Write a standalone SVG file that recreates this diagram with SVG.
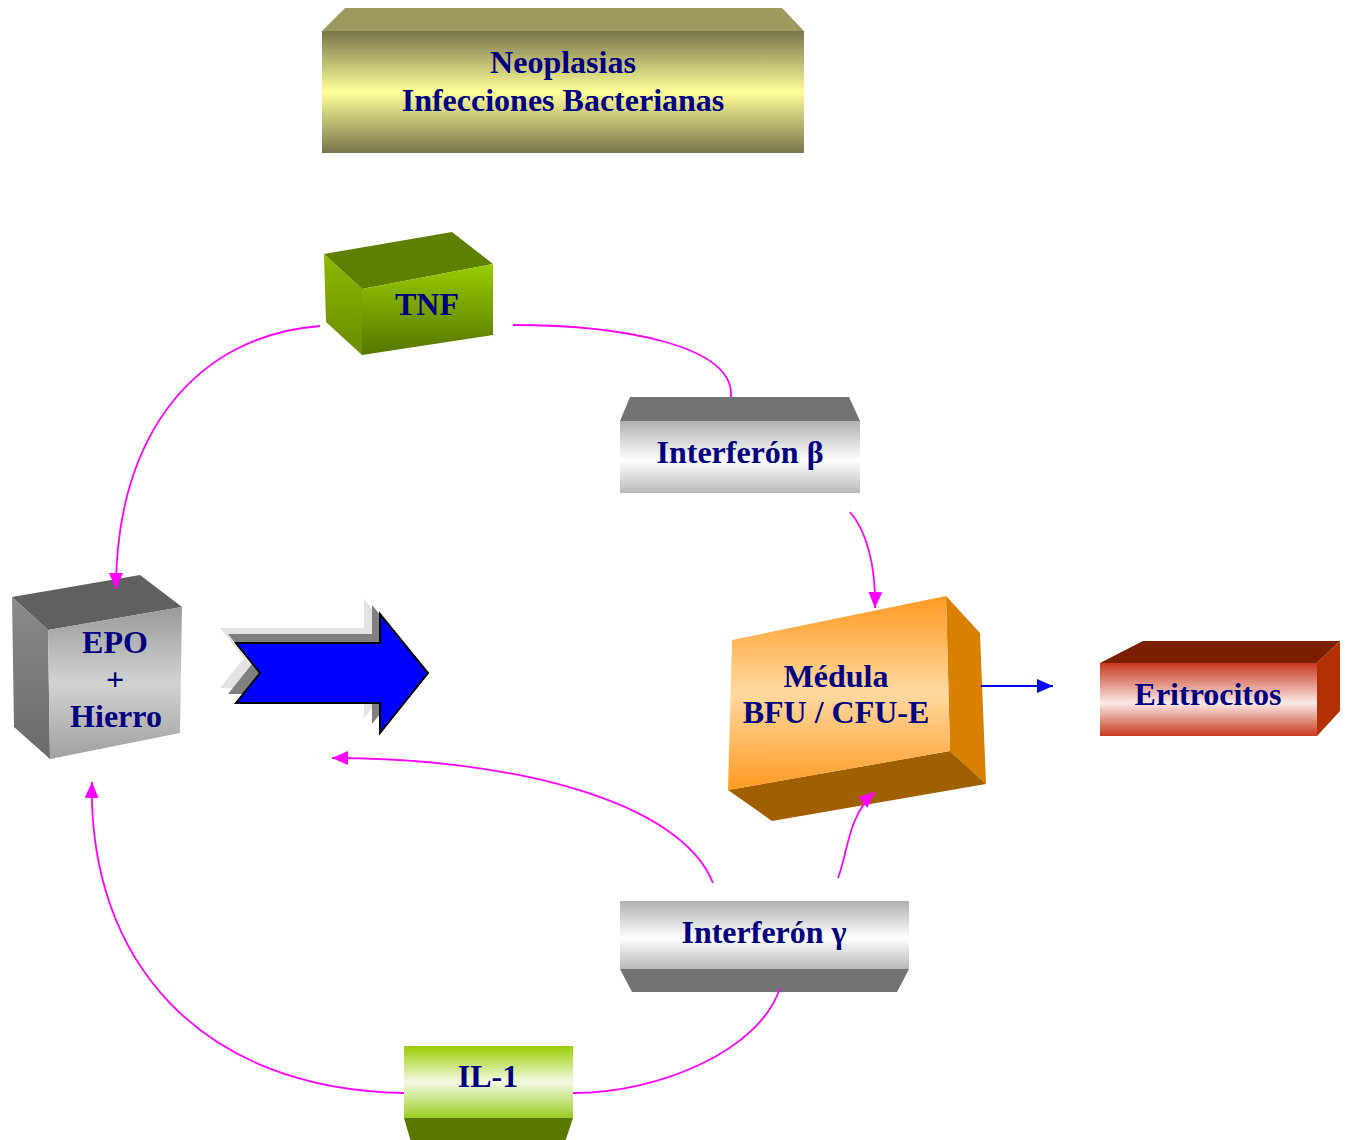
<svg xmlns="http://www.w3.org/2000/svg" width="1346" height="1140" viewBox="0 0 1346 1140">
<defs>
<linearGradient id="gOlive" x1="0" y1="0" x2="0" y2="1">
<stop offset="0" stop-color="#77744a"/><stop offset="0.5" stop-color="#ffff99"/><stop offset="1" stop-color="#77744a"/>
</linearGradient>
<linearGradient id="gGray" x1="0" y1="0" x2="0" y2="1">
<stop offset="0" stop-color="#b0b0b0"/><stop offset="0.55" stop-color="#ffffff"/><stop offset="1" stop-color="#b8b8b8"/>
</linearGradient>
<linearGradient id="gEpo" x1="0" y1="0" x2="0" y2="1">
<stop offset="0" stop-color="#9a9a9a"/><stop offset="0.5" stop-color="#d2d2d2"/><stop offset="1" stop-color="#a0a0a0"/>
</linearGradient>
<linearGradient id="gEpoL" x1="0" y1="0" x2="0" y2="1">
<stop offset="0" stop-color="#8a8a8a"/><stop offset="1" stop-color="#6a6a6a"/>
</linearGradient>
<linearGradient id="gTnf" x1="0" y1="0" x2="0" y2="1">
<stop offset="0" stop-color="#99cc00"/><stop offset="1" stop-color="#567600"/>
</linearGradient>
<linearGradient id="gTnfL" x1="0" y1="0" x2="0" y2="1">
<stop offset="0" stop-color="#8cb800"/><stop offset="1" stop-color="#6a8c00"/>
</linearGradient>
<linearGradient id="gOrange" x1="0" y1="0" x2="0" y2="1">
<stop offset="0" stop-color="#ff9a22"/><stop offset="0.5" stop-color="#ffd9a0"/><stop offset="1" stop-color="#ff9a22"/>
</linearGradient>
<linearGradient id="gRed" x1="0" y1="0" x2="0" y2="1">
<stop offset="0" stop-color="#c83820"/><stop offset="0.55" stop-color="#fbeae6"/><stop offset="1" stop-color="#c83820"/>
</linearGradient>
<linearGradient id="gGreen" x1="0" y1="0" x2="0" y2="1">
<stop offset="0" stop-color="#99cc00"/><stop offset="0.5" stop-color="#f5fae5"/><stop offset="1" stop-color="#99cc22"/>
</linearGradient>
<polygon id="arrowShape" points="236,643 380,643 380,614 428,673 380,733 380,703 236,703 260,673"/>
<marker id="mMag" viewBox="0 0 16 14" refX="16" refY="7" markerWidth="16" markerHeight="14" markerUnits="userSpaceOnUse" orient="auto">
<path d="M0,0 L16,7 L0,14 Z" fill="#ff00ff"/>
</marker>
<marker id="mBlue" viewBox="0 0 16 14" refX="16" refY="7" markerWidth="16" markerHeight="14" markerUnits="userSpaceOnUse" orient="auto">
<path d="M0,0 L16,7 L0,14 Z" fill="#0000ff"/>
</marker>
</defs>
<style>
text{font-family:"Liberation Serif","Times New Roman",serif;font-weight:bold;font-size:32px;fill:#000080;text-anchor:middle}
.mag{fill:none;stroke:#ff00ff;stroke-width:1.8}
</style>
<rect width="1346" height="1140" fill="#ffffff"/>

<g id="neoplasias">
<polygon points="345,8 782,8 804,31 322,31" fill="#9c9a5e"/>
<rect x="322" y="31" width="482" height="122" fill="url(#gOlive)"/>
<text x="563" y="73">Neoplasias</text>
<text x="563" y="111">Infecciones Bacterianas</text>
</g>

<g id="tnf">
<polygon points="324,254 452,232 493,264 362,289" fill="#5f7f00"/>
<polygon points="324,254 362,289 362,355 326,322" fill="url(#gTnfL)"/>
<polygon points="362,289 493,264 493,335 362,355" fill="url(#gTnf)"/>
<text x="427" y="315">TNF</text>
</g>

<g id="interferon-beta">
<polygon points="630,397 849,397 860,421 620,421" fill="#737373"/>
<rect x="620" y="421" width="240" height="72" fill="url(#gGray)"/>
<text x="740" y="463">Interferón β</text>
</g>

<g id="epo">
<polygon points="12,597 140,575 182,607 48,630" fill="#606060"/>
<polygon points="12,597 48,630 50,759 14,727" fill="url(#gEpoL)"/>
<polygon points="48,630 182,607 180,733 50,759" fill="url(#gEpo)"/>
<text x="115" y="653">EPO</text>
<text x="115" y="690">+</text>
<text x="116" y="727">Hierro</text>
</g>

<g id="big-arrow">
<use href="#arrowShape" transform="translate(-16,-15)" fill="#e3e3e3"/>
<use href="#arrowShape" transform="translate(-8,-9)" fill="#808080"/>
<use href="#arrowShape" fill="#0000ff" stroke="#000000" stroke-width="2"/>
</g>

<g id="medula">
<polygon points="946,596 980,633 986,784 950,751" fill="#d98000"/>
<polygon points="728,790 950,751 986,784 772,821" fill="#a06000"/>
<polygon points="732,640 946,596 950,751 728,790" fill="url(#gOrange)"/>
<text x="836" y="687">Médula</text>
<text x="836" y="723">BFU / CFU-E</text>
</g>

<g id="eritrocitos">
<polygon points="1100,663 1143,641 1340,641 1317,663" fill="#7a2000"/>
<polygon points="1317,663 1340,641 1340,711 1317,736" fill="#b33000"/>
<rect x="1100" y="663" width="217" height="73" fill="url(#gRed)"/>
<text x="1208" y="705">Eritrocitos</text>
</g>

<g id="interferon-gamma">
<polygon points="620,969 909,969 897,992 632,992" fill="#737373"/>
<rect x="620" y="901" width="289" height="68" fill="url(#gGray)"/>
<text x="764" y="943">Interferón γ</text>
</g>

<g id="il1">
<polygon points="404,1118 573,1118 565,1142 411,1142" fill="#5a7800"/>
<rect x="404" y="1046" width="169" height="72" fill="url(#gGreen)"/>
<text x="488" y="1087">IL-1</text>
</g>

<g id="connectors">
<path class="mag" d="M320,326 C200,335 116,430 116,589" marker-end="url(#mMag)"/>
<path class="mag" d="M513,325 C620,325 735,345 731,397"/>
<path class="mag" d="M850,512 C866,530 876,565 875,608" marker-end="url(#mMag)"/>
<path d="M981,686 L1053,686" fill="none" stroke="#0000ff" stroke-width="1.8" marker-end="url(#mBlue)"/>
<path class="mag" d="M838,878 C848,852 848,815 875,792" marker-end="url(#mMag)"/>
<path class="mag" d="M713,883 C680,800 510,758 332,758" marker-end="url(#mMag)"/>
<path class="mag" d="M404,1093 C200,1090 88,960 92,782" marker-end="url(#mMag)"/>
<path class="mag" d="M780,988 C760,1050 660,1093 573,1093"/>
</g>
</svg>
